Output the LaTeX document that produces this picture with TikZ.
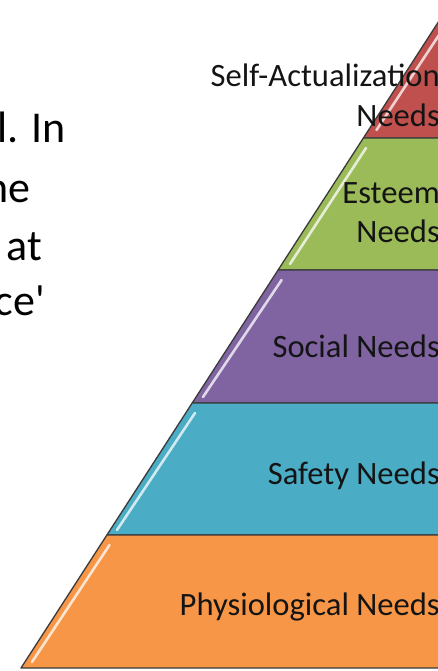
\documentclass[tikz,border=0pt]{standalone}
\usepackage{fontspec}
\setmainfont{Carlito}
\newfontfamily\sidefont{Carlito}
\definecolor{cred}{HTML}{C0504D}
\definecolor{cgreen}{HTML}{9BBB59}
\definecolor{cpurple}{HTML}{8064A2}
\definecolor{cblue}{HTML}{4BACC6}
\definecolor{corange}{HTML}{F79646}
\definecolor{edgec}{HTML}{3A3A3A}
\definecolor{labelc}{HTML}{141414}
\begin{document}
\begin{tikzpicture}[x=1pt,y=-1pt,
  band/.style={draw=edgec,line width=1.3pt,line join=round},
  gloss/.style={draw=white,opacity=0.75,line width=2.6pt,line cap=round},
  lbl/.style={anchor=base east,inner sep=0pt,text=labelc,font=\fontsize{32.6}{40}\selectfont},
  side/.style={anchor=base east,inner sep=0pt,text=black,font=\sidefont\fontsize{44}{52}\selectfont}]
\useasboundingbox (0,0) rectangle (438,671);
\clip (0,0) rectangle (438,671);
% left-edge points of the pyramid
\coordinate (p0) at (448.7,6);
\coordinate (p1) at (363.4,138);
\coordinate (p2) at (278.1,270);
\coordinate (p3) at (192.2,403);
\coordinate (p4) at (106.9,535);
\coordinate (p5) at (21,668);
% bands
\draw[band,fill=cred] (p0) -- (p1) -- (560,138) -- (560,6) -- cycle;
\draw[band,fill=cgreen] (p1) -- (p2) -- (560,270) -- (560,138) -- cycle;
\draw[band,fill=cpurple] (p2) -- (p3) -- (560,403) -- (560,270) -- cycle;
\draw[band,fill=cblue] (p3) -- (p4) -- (560,535) -- (560,403) -- cycle;
\draw[band,fill=corange] (p4) -- (p5) -- (560,668) -- (560,535) -- cycle;
% glossy highlights
\coordinate (h1a) at (439,35);  \coordinate (h1b) at (376.5,130);
\coordinate (h2a) at (366,148); \coordinate (h2b) at (290,264);
\coordinate (h3a) at (281.6,280); \coordinate (h3b) at (203,397);
\coordinate (h4a) at (195,413); \coordinate (h4b) at (117,530);
\coordinate (h5a) at (109.5,545); \coordinate (h5b) at (32,662);
\draw[gloss] (h1a) -- (h1b);
\draw[gloss] (h2a) -- (h2b);
\draw[gloss] (h3a) -- (h3b);
\draw[gloss] (h4a) -- (h4b);
\draw[gloss] (h5a) -- (h5b);
% labels
\node[lbl] (sa1) at (440,87) {Self-Actualization};
\node[lbl] (sa2) at (440,127) {Needs};
\node[lbl] (es1) at (440,203) {Esteem};
\node[lbl] (es2) at (440,242) {Needs};
\node[lbl] (so) at (440,357) {Social Needs};
\node[lbl] (sf) at (440,484) {Safety Needs};
\node[lbl] (ph) at (440,615) {Physiological Needs};
% clipped body text on the left
\node[side] (t1) at (66,143) {l. In};
\node[side] (t2) at (31,202) {he};
\node[side] (t3) at (42,260) {at};
\node[side] (t4) at (45,315) {ce'};
\end{tikzpicture}
\end{document}
